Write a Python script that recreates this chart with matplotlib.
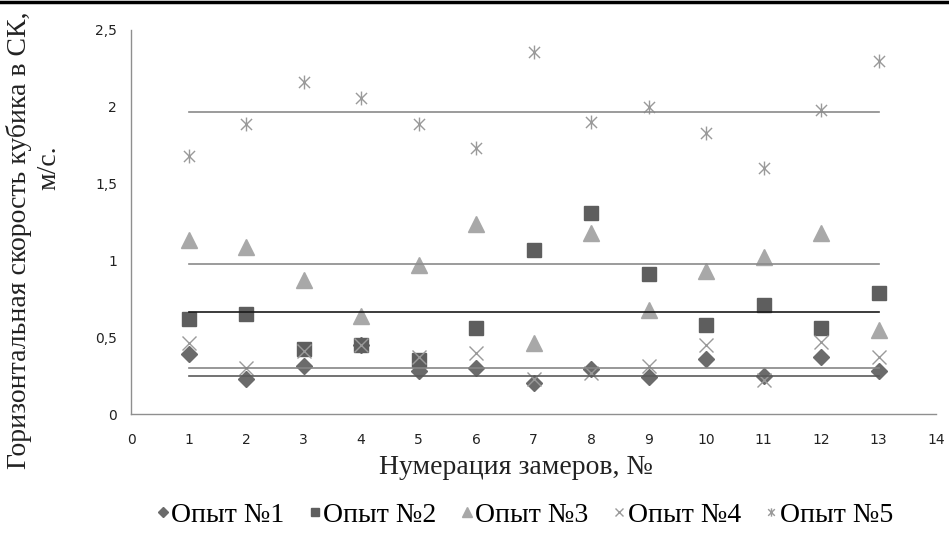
import matplotlib.pyplot as plt
from matplotlib.path import Path
from matplotlib.lines import Line2D
from matplotlib.ticker import FuncFormatter

# measurement numbers
x = [1, 2, 3, 4, 5, 6, 7, 8, 9, 10, 11, 12, 13]

# horizontal speed, m/s, per experiment
opyt1 = [0.39, 0.23, 0.31, 0.45, 0.28, 0.30, 0.20, 0.29, 0.24, 0.36, 0.25, 0.37, 0.28]
opyt2 = [0.62, 0.65, 0.42, 0.45, 0.35, 0.56, 1.07, 1.31, 0.91, 0.58, 0.71, 0.56, 0.79]
opyt3 = [1.13, 1.09, 0.87, 0.64, 0.97, 1.24, 0.46, 1.18, 0.68, 0.93, 1.02, 1.18, 0.55]
opyt4 = [0.46, 0.30, 0.41, 0.45, 0.37, 0.40, 0.23, 0.27, 0.31, 0.45, 0.22, 0.47, 0.37]
opyt5 = [1.68, 1.89, 2.16, 2.06, 1.89, 1.73, 2.36, 1.90, 2.00, 1.83, 1.60, 1.98, 2.30]

# level lines drawn over each series
levels = [0.247, 0.662, 0.977, 0.302, 1.966]

labels = ['Опыт №1', 'Опыт №2', 'Опыт №3', 'Опыт №4', 'Опыт №5']

# asterisk marker like the spreadsheet one: an x with a vertical bar
star = Path([(-1, -1), (1, 1), (-1, 1), (1, -1), (0, -1.25), (0, 1.25)],
            [Path.MOVETO, Path.LINETO, Path.MOVETO, Path.LINETO, Path.MOVETO, Path.LINETO])

series = [opyt1, opyt2, opyt3, opyt4, opyt5]
styles = [
    dict(marker='D', ms=8.5, color='#6b6b6b'),
    dict(marker='s', ms=10, color='#5e5e5e'),
    dict(marker='^', ms=11, color='#a8a8a8'),
    dict(marker='x', ms=10, color='#9a9a9a', mew=1.0),
    dict(marker=star, ms=10, color='#9a9a9a', mew=1.0),
]
line_colors = ['#5a5a5a', '#1a1a1a', '#8a8a8a', '#858585', '#8a8a8a']

fig = plt.figure(figsize=(9.49, 5.35), dpi=100)
ax = fig.add_axes([131 / 949, 1 - 414 / 535, (936 - 131) / 949, (414 - 30) / 535])

handles = []
for vals, st, lab in zip(series, styles, labels):
    h, = ax.plot(x, vals, linestyle='none', label=lab, zorder=3, **st)
    handles.append(h)

for lev, c in zip(levels, line_colors):
    ax.plot([x[0], x[-1]], [lev, lev], color=c, lw=1.2, zorder=4)

ax.set_xlim(0, 14)
ax.set_ylim(0, 2.5)
ax.set_xticks(range(0, 15))
ax.set_yticks([0, 0.5, 1, 1.5, 2, 2.5])
ax.yaxis.set_major_formatter(FuncFormatter(lambda v, p: ('%g' % v).replace('.', ',')))
ax.tick_params(length=0, labelsize=10, colors='#222222')
ax.tick_params(axis='x', pad=14)
ax.tick_params(axis='y', pad=10)
for side in ['top', 'right']:
    ax.spines[side].set_visible(False)
for side in ['left', 'bottom']:
    ax.spines[side].set_color('#8f8f8f')
    ax.spines[side].set_linewidth(1.0)

serif = 'Liberation Serif'
fig.text(516 / 949, 1 - 468 / 535, 'Нумерация замеров, №', family=serif,
         fontsize=20, ha='center', va='center', color='#222222')
fig.text(19 / 949, 1 - 240 / 535, 'Горизонтальная скорость кубика в СК,', family=serif,
         fontsize=20, rotation=90, ha='center', va='center', color='#222222')
fig.text(49 / 949, 1 - 168 / 535, 'м/с.', family=serif,
         fontsize=20, rotation=90, ha='center', va='center', color='#222222')

leg = fig.legend(handles=handles, loc='center', bbox_to_anchor=(525 / 949, 1 - 515 / 535),
                 ncol=5, frameon=False, prop={'family': serif, 'size': 20},
                 handlelength=0.4, handletextpad=0.1, columnspacing=0.9, markerscale=0.6)

# black rule across the top of the picture
fig.add_artist(Line2D([0, 1], [1 - 1.5 / 535, 1 - 1.5 / 535], color='black', lw=2.5,
                      transform=fig.transFigure))

fig.savefig('out.png', dpi=100, facecolor='white')
